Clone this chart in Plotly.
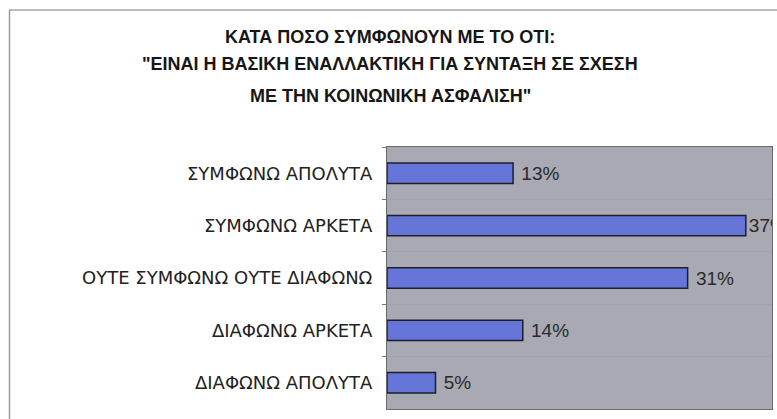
import plotly.graph_objects as go

categories = ["ΣΥΜΦΩΝΩ ΑΠΟΛΥΤΑ", "ΣΥΜΦΩΝΩ ΑΡΚΕΤΑ", "ΟΥΤΕ ΣΥΜΦΩΝΩ ΟΥΤΕ ΔΙΑΦΩΝΩ",
              "ΔΙΑΦΩΝΩ ΑΡΚΕΤΑ", "ΔΙΑΦΩΝΩ ΑΠΟΛΥΤΑ"]
values = [13, 37, 31, 14, 5]
title_lines = ["ΚΑΤΑ ΠΟΣΟ ΣΥΜΦΩΝΟΥΝ ΜΕ ΤΟ ΟΤΙ:",
               "\"ΕΙΝΑΙ Η ΒΑΣΙΚΗ ΕΝΑΛΛΑΚΤΙΚΗ ΓΙΑ ΣΥΝΤΑΞΗ ΣΕ ΣΧΕΣΗ",
               "ΜΕ ΤΗΝ ΚΟΙΝΩΝΙΚΗ ΑΣΦΑΛΙΣΗ\""]

W, H = 777, 419
L, R, T, B = 387, 5, 147, 10
pw, ph = W - L - R, H - T - B

labels = [(f"{v}%" if v == max(values) else f" {v}%") for v in values]

fig = go.Figure(go.Bar(
    x=values, y=categories, orientation="h",
    marker=dict(color="#6676d8", line=dict(color="#1e1e28", width=1.5)),
    width=0.39,
    text=labels, textposition="outside",
    textfont=dict(family="Liberation Sans, Arial, sans-serif", size=19, color="#2a2a2a"),
    constraintext="none", cliponaxis=True,
))

def px_to_paper_x(px):
    return (px - L) / pw

def py_to_paper_y(py):
    return (H - B - py) / ph

annotations = []
for i, yy in enumerate([37, 64, 96]):
    annotations.append(dict(
        text=f"<b>{title_lines[i]}</b>", showarrow=False, xref="paper", yref="paper",
        x=px_to_paper_x(390), y=py_to_paper_y(yy),
        xanchor="center", yanchor="middle",
        font=dict(family="Liberation Sans, Arial, sans-serif", size=18, color="#161616"),
    ))

shapes = [
    dict(type="line", xref="paper", yref="paper",
         x0=px_to_paper_x(9), x1=px_to_paper_x(777), y0=py_to_paper_y(10), y1=py_to_paper_y(10),
         line=dict(color="#7a7a7a", width=1.2)),
    dict(type="line", xref="paper", yref="paper",
         x0=px_to_paper_x(9.5), x1=px_to_paper_x(9.5), y0=py_to_paper_y(10), y1=py_to_paper_y(419),
         line=dict(color="#9a9a9a", width=1.5)),
]

fig.update_layout(
    width=W, height=H, margin=dict(l=L, r=R, t=T, b=B),
    paper_bgcolor="white", plot_bgcolor="#a8a9b2",
    showlegend=False, annotations=annotations, shapes=shapes,
)
fig.update_xaxes(range=[0, 39.7], showticklabels=False, showgrid=False, zeroline=False,
                 showline=True, linecolor="#6a6a6a", mirror=True, ticks="")
fig.update_yaxes(autorange="reversed", tickson="boundaries", ticks="outside", ticklen=4,
                 tickcolor="#777", showline=True, linecolor="#6a6a6a", mirror=True,
                 showgrid=True, gridcolor="#a1a2ac", gridwidth=1,
                 ticklabelstandoff=10,
                 tickfont=dict(family="DejaVu Sans, sans-serif", size=18, color="#222"))

fig.write_html("out.html")
